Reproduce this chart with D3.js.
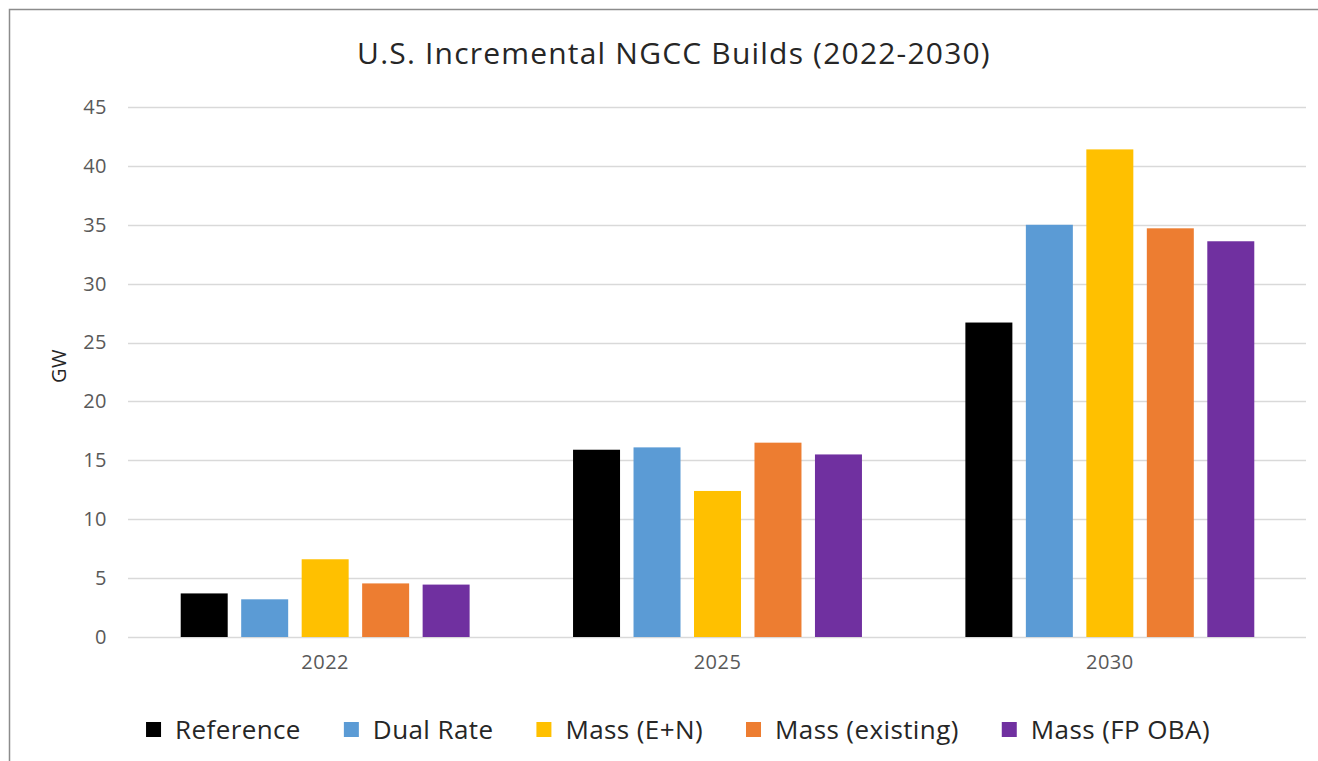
<!DOCTYPE html>
<html>
<head>
<meta charset="utf-8">
<script src="https://cdn.jsdelivr.net/npm/d3@7"></script>
<style>
  html, body { margin: 0; padding: 0; background: #ffffff; }
  svg { display: block; font-family: "Open Sans", "Noto Sans", sans-serif; }
</style>
</head>
<body>
<svg id="chart" width="1318" height="761"></svg>
<script>
// Incremental NGCC builds by scenario, GW
const years = ["2022", "2025", "2030"];
const scenarios = ["Reference", "Dual Rate", "Mass (E+N)", "Mass (existing)", "Mass (FP OBA)"];
const referenceGW = [3.7, 15.9, 26.7];
const dualRateGW = [3.2, 16.1, 35.0];
const massENGW = [6.6, 12.4, 41.4];
const massExistingGW = [4.55, 16.5, 34.7];
const massFPOBAGW = [4.45, 15.5, 33.6];
const yTicks = [0, 5, 10, 15, 20, 25, 30, 35, 40, 45];
const colors = ["#000000", "#5b9bd5", "#ffc000", "#ed7d31", "#7030a0"];

const seriesValues = [referenceGW, dualRateGW, massENGW, massExistingGW, massFPOBAGW];
const rows = years.map((yr, i) => ({
  year: yr,
  values: scenarios.map((s, j) => ({ scenario: s, value: seriesValues[j][i], color: colors[j] }))
}));

const svg = d3.select("#chart");

// outer chart frame
svg.append("rect")
  .attr("x", 9.5).attr("y", 9.5)
  .attr("width", 1400).attr("height", 900)
  .attr("fill", "none").attr("stroke", "#8c8c8c").attr("stroke-width", 1.5);

const plot = { left: 129, right: 1306, top: 107, bottom: 637 };

const x0 = d3.scaleBand().domain(years).range([plot.left, plot.right]).padding(0);
const x1 = d3.scaleBand().domain(scenarios)
  .range([0, x0.bandwidth()])
  .paddingInner(0.223).paddingOuter(0.855);
const y = d3.scaleLinear().domain([0, 45]).range([plot.bottom, plot.top]);

// horizontal gridlines
svg.append("g").selectAll("line").data(yTicks).join("line")
  .attr("x1", plot.left - 1).attr("x2", plot.right)
  .attr("y1", d => Math.round(y(d)) + 0.5).attr("y2", d => Math.round(y(d)) + 0.5)
  .attr("stroke", "#d9d9d9").attr("stroke-width", 1.3);

// y axis labels
const yAxis = svg.append("g")
  .attr("transform", `translate(${plot.left},0)`)
  .call(d3.axisLeft(y).tickValues(yTicks).tickSize(0).tickPadding(22));
yAxis.select(".domain").remove();
yAxis.selectAll("text").attr("fill", "#595959").style("font-size", "20px")
  .style("letter-spacing", "0.5px")
  .style("font-family", "'Open Sans', sans-serif");

// x axis labels
const xAxis = svg.append("g")
  .attr("transform", `translate(0,${plot.bottom})`)
  .call(d3.axisBottom(x0).tickSize(0).tickPadding(18));
xAxis.select(".domain").remove();
xAxis.selectAll("text").attr("fill", "#595959").style("font-size", "20px")
  .style("letter-spacing", "0.5px")
  .style("font-family", "'Open Sans', sans-serif");

// bars
svg.append("g").selectAll("g").data(rows).join("g")
  .attr("transform", d => `translate(${x0(d.year)},0)`)
  .selectAll("rect").data(d => d.values).join("rect")
  .attr("x", d => x1(d.scenario))
  .attr("width", x1.bandwidth())
  .attr("y", d => y(d.value))
  .attr("height", d => y(0) - y(d.value))
  .attr("fill", d => d.color);

// title
svg.append("text")
  .attr("x", 674).attr("y", 64)
  .attr("text-anchor", "middle")
  .attr("fill", "#262626")
  .style("font-size", "30px")
  .style("letter-spacing", "1.2px")
  .text("U.S. Incremental NGCC Builds (2022-2030)");

// y axis title
svg.append("text")
  .attr("transform", `translate(66,${(plot.top + plot.bottom) / 2 - 6}) rotate(-90)`)
  .attr("text-anchor", "middle")
  .attr("fill", "#262626")
  .style("font-size", "20px")
  .style("letter-spacing", "0.5px")
  .text("GW");

// legend
const legend = svg.append("g");
const items = legend.selectAll("g").data(scenarios).join("g");
items.append("rect")
  .attr("width", 15).attr("height", 15)
  .attr("y", 722)
  .attr("fill", (d, i) => colors[i]);
items.append("text")
  .attr("x", 29).attr("y", 739)
  .attr("fill", "#262626")
  .style("font-size", "26px")
  .style("letter-spacing", "0.4px")
  .text(d => d);

const gap = 43;
let widths = [];
items.each(function () { widths.push(this.querySelector("text").getComputedTextLength() + 29); });
const total = d3.sum(widths) + gap * (widths.length - 1);
let cx = 678 - total / 2;
items.each(function (d, i) {
  d3.select(this).attr("transform", `translate(${cx},0)`);
  cx += widths[i] + gap;
});
</script>
</body>
</html>
